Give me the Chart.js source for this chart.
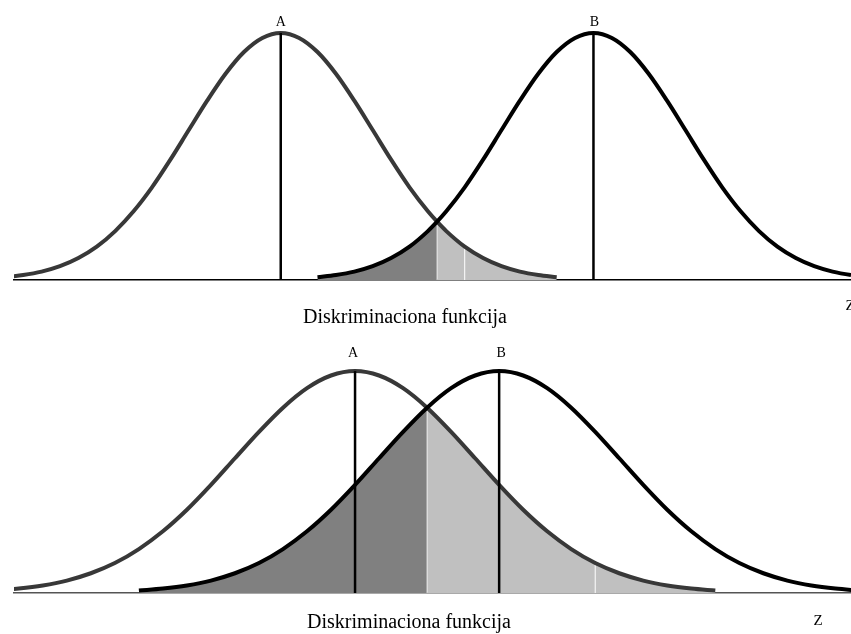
<!DOCTYPE html>
<html>
<head>
<meta charset="utf-8">
<script src="https://cdn.jsdelivr.net/npm/chart.js@4.4.1/dist/chart.umd.min.js"></script>
<style>
  html, body { margin: 0; padding: 0; background: #fff; }
  .panel { position: absolute; left: 0; width: 851px; }
  #topBox { top: 0; height: 330px; }
  #bottomBox { top: 318px; height: 316px; }
</style>
</head>
<body>
<div class="panel" id="topBox"><canvas id="topChart"></canvas></div>
<div class="panel" id="bottomBox"><canvas id="bottomChart"></canvas></div>
<script>
// ---- data (x in units of the discriminant axis, heights relative to peak) ----
const groupLabels = ['A', 'B'];
const axisTitle = 'Diskriminaciona funkcija';
const axisName = 'Z';

// top panel: groups far apart
const topX = [-3, -2.8, -2.6, -2.4, -2.2, -2, -1.8, -1.6, -1.4, -1.2, -1, -0.8, -0.6, -0.4, -0.2, 0,
  0.2, 0.4, 0.6, 0.8, 1, 1.2, 1.4, 1.6, 1.7, 1.8, 2, 2.2, 2.4, 2.6, 2.8, 3,
  3.2, 3.4, 3.6, 3.8, 4, 4.2, 4.4, 4.6, 4.8, 5, 5.2, 5.4, 5.6, 5.8, 6, 6.2, 6.4];
const topA = [0.011, 0.020, 0.034, 0.056, 0.089, 0.135, 0.198, 0.278, 0.375, 0.487, 0.607, 0.726, 0.835, 0.923, 0.980, 1,
  0.980, 0.923, 0.835, 0.726, 0.607, 0.487, 0.375, 0.278, 0.236, 0.198, 0.135, 0.089, 0.056, 0.034, 0.020, 0.011,
  null, null, null, null, null, null, null, null, null, null, null, null, null, null, null, null, null];
const topB = [null, null, null, null, null, null, null, null, null, null, null, null, null, null, null, null,
  null, 0.011, 0.020, 0.034, 0.056, 0.089, 0.135, 0.198, 0.236, 0.278, 0.375, 0.487, 0.607, 0.726, 0.835, 0.923,
  0.980, 1, 0.980, 0.923, 0.835, 0.726, 0.607, 0.487, 0.375, 0.278, 0.198, 0.135, 0.089, 0.056, 0.034, 0.020, 0.011];
const topMeans = [0, 3.4];
const topCross = 1.7;
const topSeam = 2;

// bottom panel: groups overlapping
const bottomX = [-3, -2.8, -2.6, -2.4, -2.2, -2, -1.8, -1.6, -1.4, -1.2, -1, -0.8, -0.6, -0.4, -0.2, 0,
  0.2, 0.4, 0.6, 0.8, 1, 1.2, 1.4, 1.6, 1.8, 2, 2.2, 2.4, 2.6, 2.8, 3, 3.2, 3.4, 3.6, 3.8, 4, 4.2];
const bottomA = [0.011, 0.020, 0.034, 0.056, 0.089, 0.135, 0.198, 0.278, 0.375, 0.487, 0.607, 0.726, 0.835, 0.923, 0.980, 1,
  0.980, 0.923, 0.835, 0.726, 0.607, 0.487, 0.375, 0.278, 0.198, 0.135, 0.089, 0.056, 0.034, 0.020, 0.011,
  null, null, null, null, null, null];
const bottomB = [null, null, null, null, null, null, 0.011, 0.020, 0.034, 0.056, 0.089, 0.135, 0.198, 0.278, 0.375, 0.487,
  0.607, 0.726, 0.835, 0.923, 0.980, 1, 0.980, 0.923, 0.835, 0.726, 0.607, 0.487, 0.375, 0.278, 0.198,
  0.135, 0.089, 0.056, 0.034, 0.020, 0.011];
const bottomMeans = [0, 1.2];
const bottomCross = 0.6;
const bottomSeam = 2;

// ---- helpers ----
function points(xs, ys, keep) {
  const out = [];
  xs.forEach((x, i) => {
    if (ys[i] !== null && keep(x)) out.push({ x: x, y: ys[i] });
  });
  return out;
}

function valueAt(xs, ys, x) {
  const i = xs.indexOf(x);
  return i >= 0 ? ys[i] : 0;
}

const serif = '"Liberation Serif", "Times New Roman", serif';

// labels A / B, axis title and Z
const labelPlugin = {
  id: 'labels',
  afterDraw(chart, args, opts) {
    const { ctx, scales } = chart;
    ctx.save();
    ctx.fillStyle = '#000';
    ctx.textAlign = 'center';
    ctx.textBaseline = 'alphabetic';
    ctx.font = '14px ' + serif;
    opts.means.forEach((m, i) => {
      ctx.fillText(groupLabels[i], scales.x.getPixelForValue(m) + opts.labelDx[i], scales.y.getPixelForValue(1) - opts.labelDy);
    });
    ctx.font = '20px ' + serif;
    ctx.fillText(axisTitle, opts.titleX, chart.chartArea.bottom + opts.titleDy);
    ctx.font = '15px ' + serif;
    ctx.fillText(axisName, opts.zX, chart.chartArea.bottom + opts.zDy);
    ctx.restore();
  }
};

function makeChart(id, xs, aVals, bVals, means, cross, seam, xMin, xMax, yMax, extra, baseColor) {
  const curve = { showLine: true, pointRadius: 0, borderWidth: 4, cubicInterpolationMode: 'monotone', fill: false };
  const datasets = [
    // shaded overlap areas
    Object.assign({}, curve, {
      data: points(xs, bVals, x => x <= cross),
      borderWidth: 0, backgroundColor: '#808080', fill: 'origin', order: 5
    }),
    Object.assign({}, curve, {
      data: points(xs, aVals, x => x >= cross),
      borderWidth: 0, backgroundColor: '#c0c0c0', fill: 'origin', order: 5
    }),
    // thin white seams
    { data: [{ x: cross, y: 0 }, { x: cross, y: valueAt(xs, aVals, cross) }], showLine: true, pointRadius: 0,
      borderColor: '#e8e8e8', borderWidth: 1, order: 4 },
    { data: [{ x: seam, y: 0 }, { x: seam, y: valueAt(xs, aVals, seam) }], showLine: true, pointRadius: 0,
      borderColor: '#ffffff', borderWidth: 1, order: 4 },
    // density curves
    Object.assign({}, curve, { data: points(xs, aVals, () => true), borderColor: '#383838', order: 2 }),
    Object.assign({}, curve, { data: points(xs, bVals, () => true), borderColor: '#000000', order: 1 }),
    // group mean lines
    { data: [{ x: means[0], y: 0 }, { x: means[0], y: 1 }], showLine: true, pointRadius: 0,
      borderColor: '#000', borderWidth: 2.5, order: 0 },
    { data: [{ x: means[1], y: 0 }, { x: means[1], y: 1 }], showLine: true, pointRadius: 0,
      borderColor: '#000', borderWidth: 2.5, order: 0 }
  ];

  return new Chart(document.getElementById(id).getContext('2d'), {
    type: 'scatter',
    data: { datasets: datasets },
    options: {
      responsive: true,
      maintainAspectRatio: false,
      animation: false,
      layout: { padding: { left: 14, right: 0, top: extra.top, bottom: extra.bottom } },
      plugins: {
        legend: { display: false },
        tooltip: { enabled: false },
        labels: extra
      },
      scales: {
        x: {
          type: 'linear', min: xMin, max: xMax,
          grid: { display: false, drawTicks: false },
          ticks: { display: false },
          border: { display: true, color: baseColor, width: 1.5 }
        },
        y: { display: false, min: 0, max: yMax }
      }
    },
    plugins: [labelPlugin]
  });
}

makeChart('topChart', topX, topA, topB, topMeans, topCross, topSeam, -2.9, 6.2, 1.093,
  { top: 10, bottom: 50, means: topMeans, labelDx: [0, 1], labelDy: 7, titleX: 405, titleDy: 43, zX: 850, zDy: 30 }, '#000');

makeChart('bottomChart', bottomX, bottomA, bottomB, bottomMeans, bottomCross, bottomSeam, -2.84, 4.13, 1.194,
  { top: 10, bottom: 41, means: bottomMeans, labelDx: [-2, 2], labelDy: 14, titleX: 409, titleDy: 35, zX: 818, zDy: 32 }, '#555');
</script>
</body>
</html>
